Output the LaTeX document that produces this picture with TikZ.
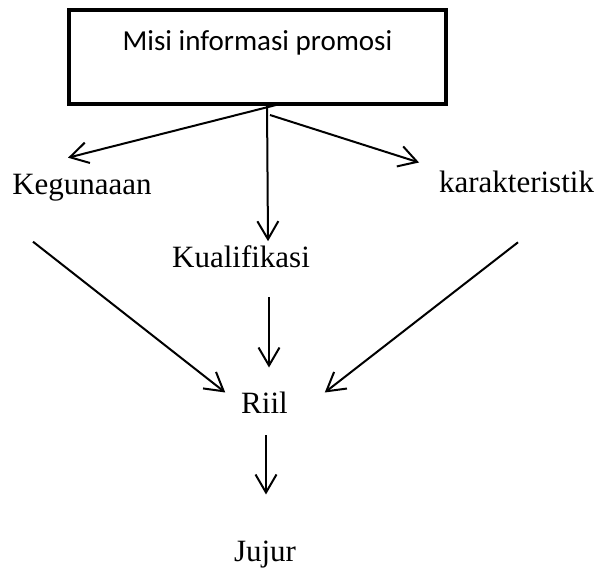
\documentclass[tikz,border=0pt]{standalone}
\usepackage{fontspec}
\setmainfont{Liberation Serif}
\newfontfamily\carlitofont{Carlito}
\usetikzlibrary{arrows.meta}
\tikzset{
  lbl/.style={inner sep=0pt, outer sep=0pt, anchor=base, font=\fontsize{31pt}{37pt}\selectfont},
  titlelbl/.style={inner sep=0pt, outer sep=0pt, anchor=base, font=\carlitofont\fontsize{29pt}{35pt}\selectfont},
  mainbox/.style={draw, line width=4pt, minimum width=377pt, minimum height=94pt, inner sep=0pt, outer sep=0pt},
  arr/.style={line width=2pt, -{Straight Barb[length=18pt,width=21pt,line width=2pt]}}
}
\begin{document}
\begin{tikzpicture}[x=1pt,y=-1pt]
\useasboundingbox (0,0) rectangle (601,568);
\node[mainbox] (box) at (257.5,57) {};
\node[titlelbl] (title) at (257.5,50) {Misi informasi promosi};
\node[lbl] (keg) at (82,194) {Kegunaaan};
\node[lbl] (kar) at (516.5,192) {karakteristik};
\node[lbl] (kual) at (241,267) {Kualifikasi};
\node[lbl] (riil) at (264.5,413) {Riil};
\node[lbl] (jujur) at (265,561) {Jujur};
% arrows from the box
\draw[arr] ([xshift=22.5pt]box.south) -- ([xshift=-14pt,yshift=16pt]keg.north);
\draw[arr] ([xshift=9.5pt]box.south) -- ([xshift=27pt,yshift=4pt]kual.north);
\draw[arr] ([xshift=12.5pt,yshift=-11pt]box.south) -- ([xshift=-20pt,yshift=8pt]kar.north west);
% arrows to Riil
\draw[arr] ([xshift=-49pt,yshift=-41pt]keg.south) -- ([xshift=-16pt,yshift=-1pt]riil.north west);
\draw[arr] ([xshift=1.5pt,yshift=-50pt]kar.south) -- ([xshift=37pt,yshift=-1pt]riil.north east);
\draw[arr] ([xshift=28pt,yshift=-30pt]kual.south) -- ([xshift=4.5pt,yshift=24pt]riil.north);
% Riil to Jujur
\draw[arr] ([xshift=1.5pt,yshift=-22pt]riil.south) -- ([xshift=1pt,yshift=46pt]jujur.north);
\end{tikzpicture}
\end{document}
